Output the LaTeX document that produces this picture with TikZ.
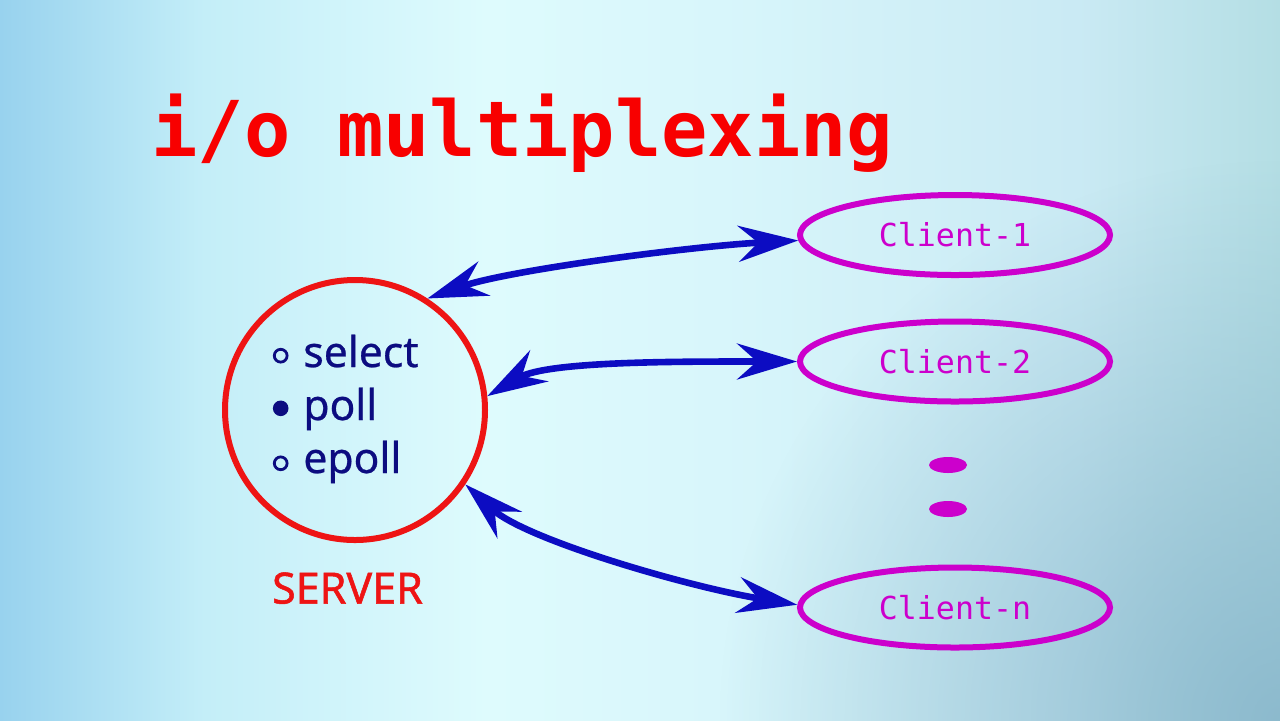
\documentclass[tikz,border=0pt]{standalone}
\usepackage{fontspec}
\usetikzlibrary{arrows.meta,shapes.geometric,fadings}
\newfontfamily\ttlfnt{DejaVu Sans Mono}
\newfontfamily\clfnt{DejaVu Sans Mono}
\newfontfamily\svbfnt{Noto Sans}[FakeBold=1.2]
\newfontfamily\itfnt{Noto Sans}[FakeBold=0.6]
\definecolor{bgL}{HTML}{98D2EE}
\definecolor{bgL2}{HTML}{C4EEF8}
\definecolor{bgM}{HTML}{DEFBFD}
\definecolor{bgM2}{HTML}{D8F6FB}
\definecolor{bgR2}{HTML}{CAEAF4}
\definecolor{bgR}{HTML}{B4DEE4}
\definecolor{bgDark}{HTML}{88B6CB}
\definecolor{ttlred}{HTML}{F80000}
\definecolor{srvred}{HTML}{EE1414}
\definecolor{cmag}{HTML}{CC00CC}
\definecolor{arrblue}{HTML}{0C0CC2}
\definecolor{navy}{HTML}{0C0C80}
\pgfdeclarehorizontalshading{bgshade}{100bp}{color(0bp)=(bgL); color(25bp)=(bgL); color(33bp)=(bgL2); color(44bp)=(bgM); color(53bp)=(bgM2); color(67bp)=(bgR2); color(75bp)=(bgR); color(100bp)=(bgR)}
\tikzfading[name=cornerfade, inner color=transparent!10, outer color=transparent!100]
\tikzset{
  bigtip/.tip={Stealth[length=30pt,width=18pt,inset=10pt]},
  arr/.style={draw=arrblue, line width=3.3pt, bigtip-bigtip},
  client/.style={ellipse, draw=cmag, line width=3pt, minimum width=155pt, minimum height=40pt, inner sep=0pt, text=cmag, font=\clfnt\fontsize{15.8}{18}\selectfont},
  dotmark/.style={ellipse, fill=cmag, minimum width=19pt, minimum height=8pt, inner sep=0pt},
  item/.style={anchor=base west, inner sep=0pt, text=navy, font=\itfnt\fontsize{21.3}{25}\selectfont},
  hbul/.style={circle, draw=navy, line width=1.4pt, minimum size=6.4pt, inner sep=0pt},
  fbul/.style={circle, fill=navy, minimum size=7.8pt, inner sep=0pt}
}
\begin{document}
\begin{tikzpicture}[x=0.5pt,y=-0.5pt]
\useasboundingbox (0,0) rectangle (1280,720);
\shade[shading=bgshade] (0,0) rectangle (1280,720);
\begin{scope}
  \clip (0,0) rectangle (1280,720);
  \fill[bgDark, path fading=cornerfade, fit fading=true] (1280,720) circle (560);
\end{scope}
% title
\node[anchor=base, inner sep=0pt, text=ttlred, font=\ttlfnt\bfseries\fontsize{38.5}{44}\selectfont] (title) at (522.5,156) {i/o multiplexing};
% server
\node[circle, draw=srvred, line width=3pt, minimum size=130pt, inner sep=0pt] (server) at (355,410) {};
\node[hbul] (b1) at (280.7,355.7) {};
\node[fbul] (b2) at (280.7,408.3) {};
\node[hbul] (b3) at (280.7,463.3) {};
\node[item] (t1) at (303,367) {select};
\node[item] (t2) at (303,420) {poll};
\node[item] (t3) at (303,473) {epoll};
\node[anchor=base, inner sep=0pt, text=srvred, font=\svbfnt\fontsize{21.5}{25}\selectfont] (srvlabel) at (347.5,603.5) {SERVER};
% clients
\node[client] (c1) at (955,235) {Client-1};
\node[client] (c2) at (955,361.5) {Client-2};
\node[client] (cn) at (955,607.5) {Client-n};
\node[dotmark] (d1) at (948,465) {};
\node[dotmark] (d2) at (948,509) {};
% arrows
\draw[arr] (server.57) .. controls +(80,-28) and +(-110,6) .. (c1.182);
\draw[arr] (server.6) .. controls +(60,-35) and +(-120,0) .. (c2.180.5);
\draw[arr] (server.-34) .. controls +(60,55) and +(-110,-18) .. (cn.179);
\end{tikzpicture}
\end{document}
